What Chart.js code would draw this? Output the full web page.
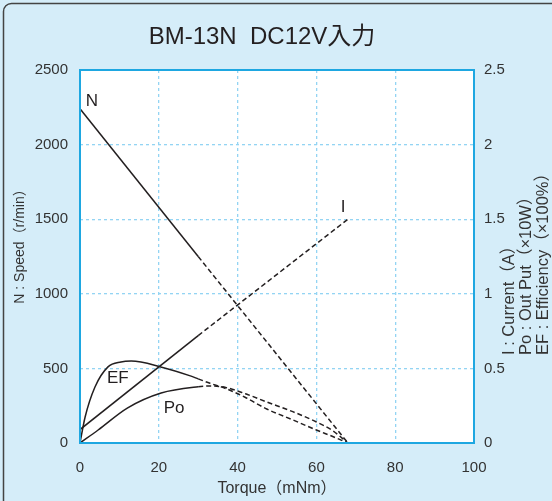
<!DOCTYPE html>
<html>
<head>
<meta charset="utf-8">
<script src="https://cdn.jsdelivr.net/npm/chart.js@4"></script>
<style>
  html, body { margin: 0; padding: 0; background: #d5edf9; }
  #wrap { width: 552px; height: 501px; }
</style>
</head>
<body>
<div id="wrap"><canvas id="chart"></canvas></div>
<script>
// values
const xTicks = [0, 20, 40, 60, 80, 100];
const speedTicks = [0, 500, 1000, 1500, 2000, 2500];
const rightTicks = [0, 0.5, 1, 1.5, 2, 2.5];

const torqueN = [0, 30, 68];
const speedN = [2240, 1250, 0];

const torqueI = [0, 30, 68];
const currentI = [0.09, 0.72, 1.5];

const torqueEF = [0, 1.3, 3.8, 7.1, 10.4, 13, 20.5, 28, 30, 33, 37, 42, 47.4, 54, 60, 64, 68];
const effEF = [0, 0.174, 0.375, 0.51, 0.543, 0.549, 0.51, 0.45, 0.43, 0.40, 0.365, 0.305, 0.228, 0.155, 0.087, 0.045, 0];

const torquePo = [0, 4.6, 12, 20.6, 30, 33, 37, 42, 47.4, 54, 60, 64, 68];
const outPo = [0, 0.087, 0.234, 0.335, 0.377, 0.382, 0.372, 0.33, 0.275, 0.21, 0.141, 0.085, 0];

const dashFrom = 30; // lines turn dashed past this torque

const pts = (xs, ys) => xs.map((x, i) => ({ x: x, y: ys[i] }));
const ink = '#231f20';
const font = '"Liberation Sans", Arial, "Noto Sans CJK JP", sans-serif';

const seg = {
  borderDash: ctx => (ctx.p0.parsed.x >= dashFrom ? [5, 3] : undefined)
};

function line(data, axis, smooth) {
  return {
    data: data,
    yAxisID: axis,
    borderColor: ink,
    borderWidth: 1.5,
    pointRadius: 0,
    fill: false,
    cubicInterpolationMode: smooth ? 'monotone' : 'default',
    tension: 0,
    segment: seg
  };
}

const frame = {
  id: 'frame',
  beforeDraw(chart) {
    const { ctx, chartArea: a } = chart;
    ctx.save();
    ctx.fillStyle = '#d5edf9';
    ctx.fillRect(0, 0, chart.width, chart.height);
    ctx.strokeStyle = '#444';
    ctx.lineWidth = 1.5;
    ctx.beginPath();
    ctx.roundRect(3.5, 3.5, 600, 560, 8);
    ctx.stroke();
    ctx.fillStyle = '#ffffff';
    ctx.fillRect(a.left, a.top, a.right - a.left, a.bottom - a.top);
    ctx.restore();
  },
  afterDraw(chart) {
    const { ctx, chartArea: a, scales } = chart;
    ctx.save();
    ctx.strokeStyle = '#1ea7e1';
    ctx.lineWidth = 2;
    ctx.strokeRect(a.left, a.top, a.right - a.left, a.bottom - a.top);

    ctx.fillStyle = ink;
    ctx.textAlign = 'center';
    ctx.textBaseline = 'middle';
    ctx.font = '24px ' + font;
    ctx.fillText('BM-13N  DC12V入力', 262, 37);

    ctx.font = '16px ' + font;
    ctx.fillStyle = '#333';
    ctx.fillText('Torque（mNm）', 277, 489);

    ctx.font = '14px ' + font;
    ctx.save();
    ctx.translate(20, 243);
    ctx.rotate(-Math.PI / 2);
    ctx.fillText('N : Speed（r/min）', 0, 0);
    ctx.restore();

    ctx.font = '16.5px ' + font;
    const rt = ['I : Current（A）', 'Po : Out Put（×10W）', 'EF : Efficiency（×100%）'];
    const rx = [509, 526, 543];
    rt.forEach((t, i) => {
      ctx.save();
      ctx.translate(rx[i], 355);
      ctx.rotate(-Math.PI / 2);
      ctx.textAlign = 'left';
      ctx.fillText(t, 0, 0);
      ctx.restore();
    });

    // curve labels at data positions
    ctx.font = '17px ' + font;
    ctx.fillStyle = ink;
    const x = scales.x, y = scales.y, y2 = scales.y2;
    ctx.fillText('N', x.getPixelForValue(3), y.getPixelForValue(2290));
    ctx.fillText('I', x.getPixelForValue(66.8), y2.getPixelForValue(1.58));
    ctx.fillText('EF', x.getPixelForValue(9.6), y.getPixelForValue(435));
    ctx.fillText('Po', x.getPixelForValue(23.9), y.getPixelForValue(235));
    ctx.restore();
  }
};

const gridOpts = { color: '#93d4f3', lineWidth: 1.3, drawTicks: false };
const borderOpts = { display: false, dash: [3, 3] };
const tickFont = { family: font, size: 15 };
const plain = v => String(v);

new Chart(document.getElementById('chart'), {
  type: 'line',
  data: {
    datasets: [
      line(pts(torqueN, speedN), 'y', false),
      line(pts(torqueI, currentI), 'y2', false),
      line(pts(torqueEF, effEF), 'y2', true),
      line(pts(torquePo, outPo), 'y2', true)
    ]
  },
  options: {
    responsive: true,
    maintainAspectRatio: false,
    animation: false,
    layout: { padding: { top: 70, left: 0, right: 0, bottom: 0 } },
    plugins: { legend: { display: false }, tooltip: { enabled: false }, title: { display: false } },
    scales: {
      x: {
        type: 'linear', min: 0, max: 100,
        afterBuildTicks: s => { s.ticks = xTicks.map(v => ({ value: v })); },
        afterFit: s => { s.height = 58; },
        grid: gridOpts, border: borderOpts,
        ticks: { color: '#333', font: tickFont, padding: 16, maxRotation: 0, callback: plain }
      },
      y: {
        type: 'linear', position: 'left', min: 0, max: 2500,
        afterBuildTicks: s => { s.ticks = speedTicks.map(v => ({ value: v })); },
        afterFit: s => { s.width = 80; },
        grid: gridOpts, border: borderOpts,
        ticks: { color: '#333', font: tickFont, padding: 12, callback: plain }
      },
      y2: {
        type: 'linear', position: 'right', min: 0, max: 2.5,
        afterBuildTicks: s => { s.ticks = rightTicks.map(v => ({ value: v })); },
        afterFit: s => { s.width = 78; },
        grid: { display: false }, border: { display: false },
        ticks: { color: '#333', font: tickFont, padding: 2, callback: plain }
      }
    }
  },
  plugins: [frame]
});
</script>
</body>
</html>
